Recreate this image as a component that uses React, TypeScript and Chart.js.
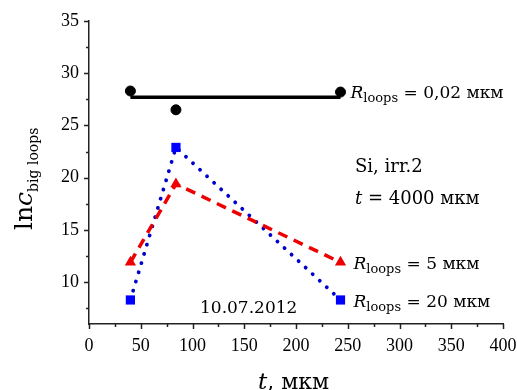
import React, { useEffect, useRef } from "react";
import { Chart, registerables } from "chart.js";

Chart.register(...registerables);

// ---- data ----
const tValues = [40, 84, 243];
const seriesR002 = [28.3, 26.5, 28.2];
const lineR002X = [40, 243];
const lineR002Y = [27.7, 27.7];
const seriesR5 = [11.9, 19.4, 11.9];
const seriesR20 = [8.3, 22.9, 8.3];
const xMin = 0, xMax = 400, xMinorStep = 25, xMajorStep = 50;
const yMin = 6, yMax = 35, yMinorStep = 2.5, yMajorStep = 5;

const SERIF = "'DejaVu Serif', serif";
const TIMES = "'Liberation Serif', serif";

type Part = { t: string; f: string; dy?: number };
function drawRich(ctx: CanvasRenderingContext2D, x: number, y: number, parts: Part[]) {
  let cx = x;
  for (const p of parts) {
    ctx.font = p.f;
    ctx.fillText(p.t, cx, y + (p.dy || 0));
    cx += ctx.measureText(p.t).width;
  }
}
function rLabel(value: string): Part[] {
  return [
    { t: "R", f: `italic 17px ${SERIF}` },
    { t: "loops", f: `13px ${SERIF}`, dy: 4 },
    { t: " = " + value, f: `17px ${SERIF}` },
  ];
}

const overlay = {
  id: "overlay",
  afterDraw(chart: any) {
    const ctx: CanvasRenderingContext2D = chart.ctx;
    const xs = chart.scales.x;
    const ys = chart.scales.y;
    const area = chart.chartArea;
    ctx.save();
    ctx.strokeStyle = "#222";
    ctx.lineWidth = 1.5;
    // ticks
    ctx.beginPath();
    for (let v = xMin; v <= xMax + 1e-9; v += xMinorStep) {
      const px = Math.round(xs.getPixelForValue(v)) + 0.5;
      const major = Math.abs(v / xMajorStep - Math.round(v / xMajorStep)) < 1e-6;
      ctx.moveTo(px, area.bottom);
      ctx.lineTo(px, area.bottom + (major ? 5 : 3));
    }
    for (let v = 7.5; v <= yMax + 1e-9; v += yMinorStep) {
      const py = Math.round(ys.getPixelForValue(v)) + 0.5;
      const major = Math.abs(v / yMajorStep - Math.round(v / yMajorStep)) < 1e-6;
      ctx.moveTo(area.left, py);
      ctx.lineTo(area.left - (major ? 5 : 3), py);
    }
    ctx.stroke();

    ctx.fillStyle = "#000";
    ctx.textBaseline = "alphabetic";
    ctx.textAlign = "left";
    const xr = xs.getPixelForValue(243);
    drawRich(ctx, xr + 10, ys.getPixelForValue(28.3) + 7, rLabel("0,02 мкм"));
    drawRich(ctx, xr + 13, ys.getPixelForValue(11.9) + 7, rLabel("5 мкм"));
    drawRich(ctx, xr + 13, ys.getPixelForValue(8.3) + 7, rLabel("20 мкм"));
    drawRich(ctx, 355, 172, [{ t: "Si, irr.2", f: `18px ${SERIF}` }]);
    drawRich(ctx, 355, 204, [
      { t: "t", f: `italic 18px ${SERIF}` },
      { t: " = 4000 мкм", f: `18px ${SERIF}` },
    ]);
    drawRich(ctx, 200, 313, [{ t: "10.07.2012", f: `17px ${SERIF}` }]);

    // x title
    drawRich(ctx, 258, 389, [
      { t: "t", f: `italic 23px ${SERIF}` },
      { t: ", мкм", f: `22px ${SERIF}` },
    ]);
    // y title
    ctx.translate(32, 230);
    ctx.rotate(-Math.PI / 2);
    drawRich(ctx, 0, 0, [
      { t: "ln", f: `25px ${SERIF}` },
      { t: "c", f: `italic 25px ${SERIF}` },
      { t: "big loops", f: `14px ${SERIF}`, dy: 6 },
    ]);
    ctx.restore();
  },
};

export default function App() {
  const ref = useRef<HTMLCanvasElement>(null);
  useEffect(() => {
    if (!ref.current) return;
    const pts = (ys: number[]) => tValues.map((t, i) => ({ x: t, y: ys[i] }));
    const chart = new Chart(ref.current, {
      type: "scatter",
      data: {
        datasets: [
          {
            data: lineR002X.map((x, i) => ({ x, y: lineR002Y[i] })),
            showLine: true,
            borderColor: "#000",
            borderWidth: 3.5,
            pointRadius: 0,
          },
          {
            data: pts(seriesR002),
            showLine: false,
            backgroundColor: "#000",
            borderColor: "#000",
            pointStyle: "circle",
            pointRadius: 5,
          },
          {
            data: pts(seriesR5),
            showLine: true,
            borderColor: "#ee0000",
            backgroundColor: "#ee0000",
            borderWidth: 3.5,
            borderDash: [10, 7],
            pointStyle: "triangle",
            pointRadius: 6.5,
            pointBorderWidth: 0,
          },
          {
            data: pts(seriesR20),
            showLine: true,
            borderColor: "#0000cc",
            backgroundColor: "#0000ff",
            borderWidth: 3.8,
            borderDash: [0.1, 9.5],
            borderCapStyle: "round",
            pointStyle: "rect",
            pointRadius: 6.5,
            pointBorderWidth: 0,
          },
        ],
      },
      options: {
        animation: false,
        responsive: false,
        layout: { padding: { top: 21, right: 14, left: 0, bottom: 0 } },
        plugins: { legend: { display: false }, tooltip: { enabled: false } },
        scales: {
          x: {
            type: "linear",
            min: xMin,
            max: xMax,
            grid: { display: false, drawTicks: false },
            border: { display: true, color: "#222", width: 1.5 },
            afterFit: (s: any) => { s.height = 66; s.paddingLeft = 0; s.paddingRight = 0; },
            ticks: {
              stepSize: xMajorStep,
              padding: 11,
              color: "#000",
              font: { family: TIMES, size: 18 },
              maxRotation: 0,
            },
          },
          y: {
            type: "linear",
            min: yMin,
            max: yMax,
            grid: { display: false, drawTicks: false },
            border: { display: true, color: "#222", width: 1.5 },
            afterFit: (s: any) => { s.width = 89; s.paddingTop = 0; s.paddingBottom = 0; },
            afterBuildTicks: (s: any) => {
              const t = [];
              for (let v = 10; v <= yMax; v += yMajorStep) t.push({ value: v });
              s.ticks = t;
            },
            ticks: {
              padding: 10,
              color: "#000",
              font: { family: TIMES, size: 18 },
            },
          },
        },
      },
      plugins: [overlay],
    } as any);
    return () => chart.destroy();
  }, []);
  return (
    <div style={{ position: "fixed", left: 0, top: 0, width: 517, height: 390, background: "#fff" }}>
      <canvas ref={ref} width={517} height={390} />
    </div>
  );
}
